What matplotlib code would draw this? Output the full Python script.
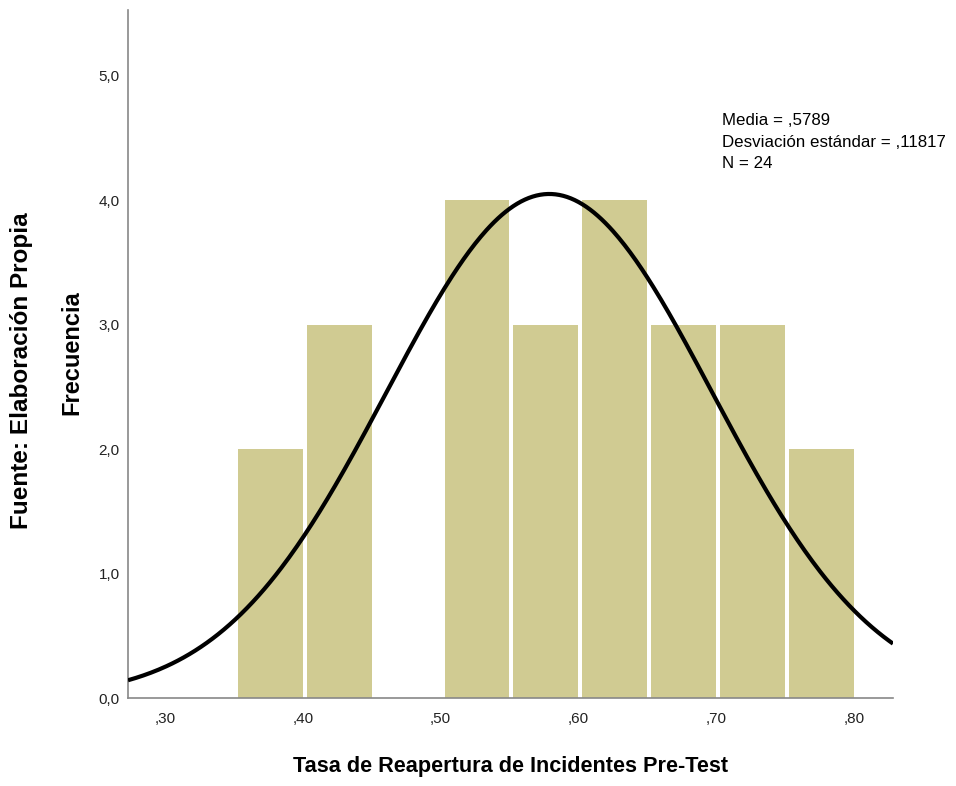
import numpy as np
import matplotlib
matplotlib.use("Agg")
import matplotlib.pyplot as plt
from matplotlib import font_manager

bin_edges = [0.35, 0.40, 0.45, 0.50, 0.55, 0.60, 0.65, 0.70, 0.75, 0.80]
counts = [2, 3, 0, 4, 3, 4, 3, 3, 2]
mean = 0.5789
std = 0.11817
n = 24
xticks = [0.30, 0.40, 0.50, 0.60, 0.70, 0.80]
xticklabels = [",30", ",40", ",50", ",60", ",70", ",80"]
yticks = [0, 1, 2, 3, 4, 5]
yticklabels = ["0,0", "1,0", "2,0", "3,0", "4,0", "5,0"]

names = {f.name for f in font_manager.fontManager.ttflist}
narrow = "Liberation Sans Narrow" if "Liberation Sans Narrow" in names else "Liberation Sans"

fig = plt.figure(figsize=(9.56, 7.86), dpi=100)
ax = fig.add_axes([128/956, 1-698/786, (893-128)/956, (698-10)/786])

edges = np.array(bin_edges)
widths = np.diff(edges)
gap = 0.0029
ax.bar(edges[:-1] + gap, counts, width=widths - gap, align="edge",
       color="#D0CB92", edgecolor="none", zorder=2)

xs = np.linspace(0.2732, 0.8283, 400)
bw = widths[0]
ys = n * bw / (std * np.sqrt(2*np.pi)) * np.exp(-0.5*((xs-mean)/std)**2)
ax.plot(xs, ys, color="black", linewidth=3, zorder=3, solid_capstyle="butt")

ax.set_xlim(0.2732, 0.8283)
ax.set_ylim(0, 5.53)
ax.set_xticks(xticks)
ax.set_xticklabels(xticklabels, family=narrow, fontsize=11, color="#222222")
ax.set_yticks(yticks)
ax.set_yticklabels(yticklabels, family=narrow, fontsize=11, color="#222222")
ax.tick_params(length=0, pad=6)
ax.tick_params(axis="x", pad=10)
for s in ["top", "right"]:
    ax.spines[s].set_visible(False)
for s in ["left", "bottom"]:
    ax.spines[s].set_color("#888888")
    ax.spines[s].set_linewidth(1.2)

ax.set_xlabel("Tasa de Reapertura de Incidentes Pre-Test", family=narrow,
              fontsize=15.6, fontweight="bold", labelpad=22)
fig.text(72/956, 1-353/786, "Frecuencia", rotation=90, ha="center", va="center",
         fontsize=17, fontweight="bold", family="Liberation Sans")
fig.text(22/956, 1-371/786, "Fuente: Elaboración Propia", rotation=90, ha="center",
         va="center", fontsize=17.5, fontweight="bold", family="Liberation Sans")

fig.text(722/956, 1-113/786,
         f"Media = ,{str(mean)[2:]}\nDesviación estándar = ,{str(std)[2:]}\nN = {n}",
         ha="left", va="top", fontsize=12.2, family=narrow, linespacing=1.55)

fig.savefig("out.png", dpi=100)
